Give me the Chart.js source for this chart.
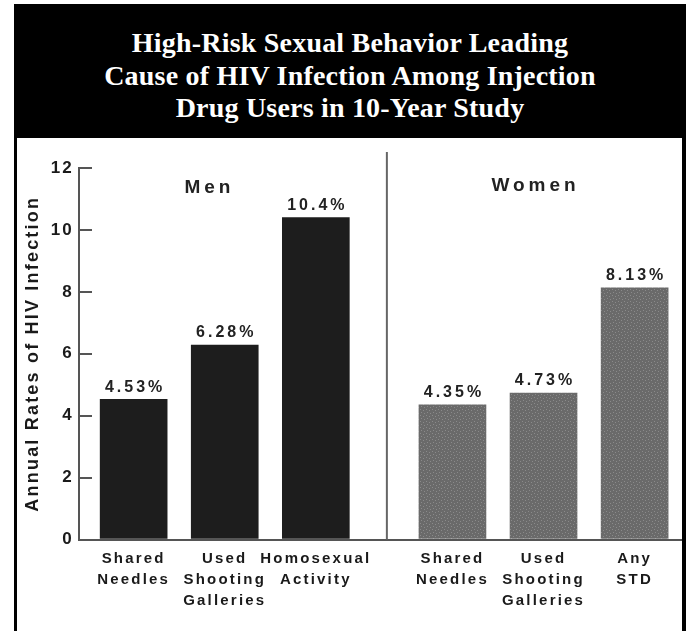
<!DOCTYPE html>
<html>
<head>
<meta charset="utf-8">
<script src="https://cdn.jsdelivr.net/npm/chart.js@4.4.0/dist/chart.umd.min.js"></script>
<style>
  html, body { margin: 0; padding: 0; background: #fff; }
  #header {
    position: absolute; left: 14px; top: 4px; width: 672px; height: 134px;
    background: #000; color: #fff; text-align: center;
    font-family: 'Liberation Serif', serif; font-weight: bold;
    font-size: 28px; line-height: 32.5px;
  }
  #header div { padding-top: 23px; letter-spacing: 0.2px; }
  #box {
    position: absolute; left: 14px; top: 138px; width: 665px; height: 493px;
    border-left: 3px solid #000; border-right: 4px solid #000;
  }
  #chart { display: block; }
</style>
</head>
<body>
<div id="header"><div>High-Risk Sexual Behavior Leading<br>Cause of HIV Infection Among Injection<br>Drug Users in 10-Year Study</div></div>
<div id="box"><canvas id="chart" width="665" height="493"></canvas></div>
<script>
// data
const groupNames = ['Men', 'Women'];
const menCats = [['Shared', 'Needles'], ['Used', 'Shooting', 'Galleries'], ['Homosexual', 'Activity']];
const menRates = [4.53, 6.28, 10.4];
const womenCats = [['Shared', 'Needles'], ['Used', 'Shooting', 'Galleries'], ['Any', 'STD']];
const womenRates = [4.35, 4.73, 8.13];
const yTicks = [0, 2, 4, 6, 8, 10, 12];
const yTitle = 'Annual Rates of HIV Infection';

// layout bits
const groupGap = 0.5;           // extra space between the two groups
const dividerAt = 2.78;
const groupLabelAt = [[0.81, 11.37], [4.39, 11.44]];

const menPos = menRates.map((v, i) => i);
const womenPos = womenRates.map((v, i) => menRates.length + groupGap + i);
const allPos = menPos.concat(womenPos);
const allCats = menCats.concat(womenCats);

// speckled grey fill for the women bars
function speckle() {
  let c = document.createElement('canvas');
  c.width = 6; c.height = 6;
  let g = c.getContext('2d');
  g.fillStyle = '#6a6a6a';
  g.fillRect(0, 0, 6, 6);
  g.fillStyle = '#8a8a8a';
  [[1, 1], [4, 2], [2, 4], [5, 5]].forEach(p => g.fillRect(p[0], p[1], 1, 1));
  return g.createPattern(c, 'repeat');
}

const annotate = {
  id: 'annotate',
  beforeDraw(chart) {
    chart.ctx.letterSpacing = '2.2px';
  },
  afterDatasetsDraw(chart) {
    const {ctx, chartArea} = chart;
    const x = chart.scales.x, y = chart.scales.y;
    ctx.save();
    let dx = x.getPixelForValue(dividerAt);
    ctx.strokeStyle = '#666';
    ctx.lineWidth = 2;
    ctx.beginPath();
    ctx.moveTo(dx, chartArea.top - 16);
    ctx.lineTo(dx, chartArea.bottom);
    ctx.stroke();

    ctx.textAlign = 'center';
    ctx.textBaseline = 'middle';
    ctx.fillStyle = '#222';
    ctx.font = 'bold 16px "Liberation Sans"';
    ctx.letterSpacing = '3px';
    chart.data.datasets.forEach((ds, di) => {
      chart.getDatasetMeta(di).data.forEach((bar, i) => {
        ctx.fillText(ds.data[i].y + '%', bar.x + 1.5, bar.y - 12);
      });
    });

    ctx.font = 'bold 19px "Liberation Sans"';
    ctx.letterSpacing = '4px';
    groupNames.forEach((name, i) => {
      ctx.fillText(name, x.getPixelForValue(groupLabelAt[i][0]) + 2, y.getPixelForValue(groupLabelAt[i][1]));
    });
    ctx.restore();
  },
  afterDraw(chart) {
    chart.ctx.letterSpacing = '0px';
  }
};

new Chart(document.getElementById('chart'), {
  type: 'bar',
  data: {
    datasets: [{
      label: groupNames[0],
      data: menRates.map((v, i) => ({x: menPos[i], y: v})),
      backgroundColor: '#1d1d1d',
      barThickness: 67,
      grouped: false
    }, {
      label: groupNames[1],
      data: womenRates.map((v, i) => ({x: womenPos[i], y: v})),
      backgroundColor: speckle(),
      barThickness: 67,
      grouped: false
    }]
  },
  options: {
    responsive: false,
    animation: false,
    layout: {padding: {top: 30, left: 0, right: 0, bottom: 0}},
    plugins: {
      legend: {display: false},
      tooltip: {enabled: false}
    },
    scales: {
      x: {
        type: 'linear',
        offset: false,
        min: -0.6,
        max: 6.02,
        afterBuildTicks: s => { s.ticks = allPos.map(v => ({value: v})); },
        afterFit: s => { s.height = 91.5; },
        border: {display: true, color: '#555', width: 2},
        grid: {display: false, drawTicks: false, offset: false},
        ticks: {
          padding: 9,
          autoSkip: false,
          maxRotation: 0,
          color: '#1a1a1a',
          font: {family: 'Liberation Sans', size: 15, weight: 'bold', lineHeight: 1.4},
          callback: (v, i) => allCats[i]
        }
      },
      y: {
        min: 0,
        max: 12,
        afterBuildTicks: s => { s.ticks = yTicks.map(v => ({value: v})); },
        afterFit: s => { s.width = 62; },
        border: {display: true, color: '#555', width: 2},
        grid: {drawOnChartArea: false, drawTicks: true, tickLength: -13, color: '#555', lineWidth: 2},
        ticks: {
          padding: 18,
          color: '#1a1a1a',
          font: {family: 'Liberation Sans', size: 17, weight: 'bold'}
        },
        title: {
          display: true,
          text: yTitle,
          color: '#1a1a1a',
          padding: {top: 5, bottom: 0},
          font: {family: 'Liberation Sans', size: 18, weight: 'bold'}
        }
      }
    }
  },
  plugins: [annotate]
});
</script>
</body>
</html>
